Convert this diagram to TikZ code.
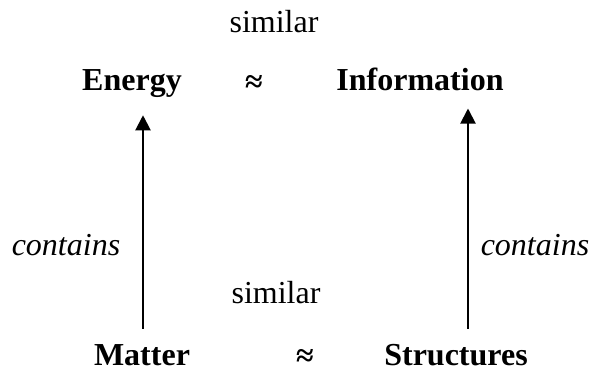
\documentclass[tikz,border=0pt]{standalone}
\usepackage{fontspec}
\setmainfont{Liberation Serif}
\usetikzlibrary{arrows.meta}
\begin{document}
\begin{tikzpicture}[
    x=1pt,
    y=-1pt,
    every node/.style={inner sep=0pt, anchor=base, font=\fontsize{32}{38}\selectfont},
    concept/.style={font=\fontsize{32}{38}\selectfont\bfseries},
    relation/.style={font=\fontsize{32}{38}\selectfont\itshape},
    link/.style={line width=2pt, -{Triangle[length=15pt, width=15pt]}, shorten <=15pt, shorten >=18pt}
]
\useasboundingbox (0,0) rectangle (592,373);

% Top row
\node[concept] (energy) at (132,90) {Energy};
\node[concept] (approxtop) at (254,92) {≈};
\node[concept] (information) at (420,90) {Information};
\node (similartop) at (274,32) {similar};

% Bottom row
\node[concept] (matter) at (142,365) {Matter};
\node[concept] (approxbottom) at (305,366) {≈};
\node[concept] (structures) at (456,365) {Structures};
\node (similarbottom) at (276,303) {similar};

% Links
\draw[link] ([xshift=1pt]matter.north) -- ([xshift=1pt]matter.north |- energy.south);
\draw[link] ([xshift=12pt]structures.north) -- ([xshift=12pt]structures.north |- information.south);
\node[relation] (containsleft) at (66,255) {contains};
\node[relation] (containsright) at (535,255) {contains};

\end{tikzpicture}
\end{document}
